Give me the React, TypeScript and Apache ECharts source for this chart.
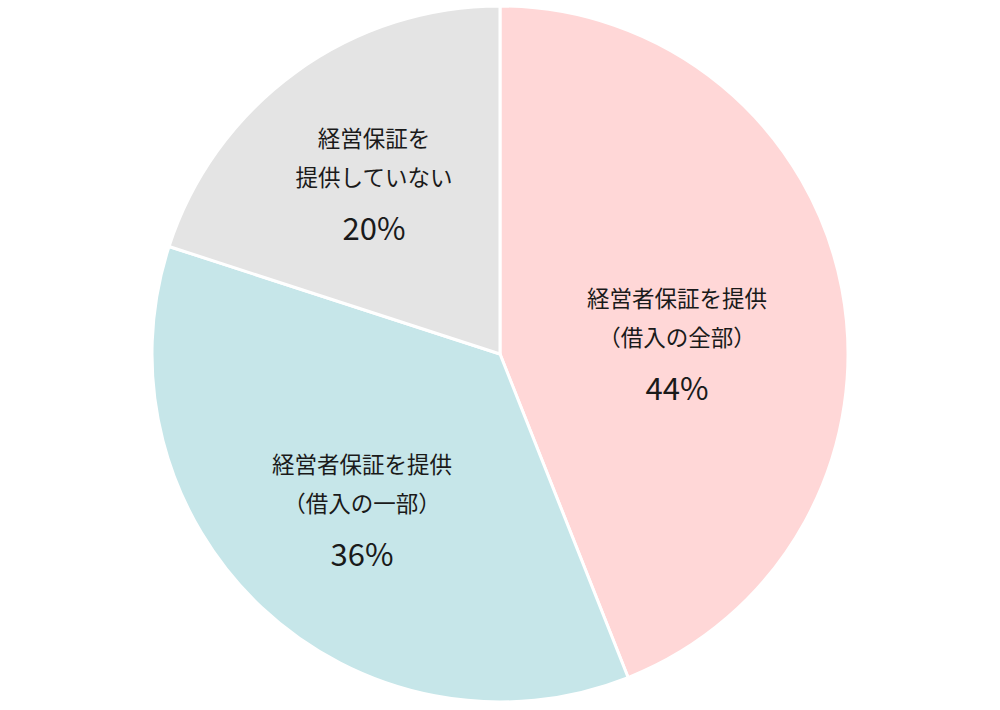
import * as echarts from "echarts"
import { useEffect, useRef } from "react"

// Share of borrowings covered by a manager's personal guarantee.
const names = ["経営者保証を提供\n（借入の全部）", "経営者保証を提供\n（借入の一部）", "経営保証を\n提供していない"]
const values = [44, 36, 20]
const colors = ["#ffd7d7", "#c6e6e9", "#e4e4e4"]
// label block centres, in px
const labelPos: [number, number][] = [
  [677, 347],
  [362, 513],
  [374, 187],
]

export default function App() {
  const ref = useRef<HTMLDivElement>(null)

  useEffect(() => {
    if (!ref.current) return
    const chart = echarts.init(ref.current, null, { renderer: "svg" })

    chart.setOption({
      animation: false,
      series: [
        {
          type: "pie",
          center: [500, 354],
          radius: 348,
          startAngle: 90,
          clockwise: true,
          silent: true,
          itemStyle: { borderColor: "#fff", borderWidth: 3 },
          label: {
            position: "inside",
            formatter: (p: { name: string; value: number }) => {
              const lines = p.name.split("\n").map((l) => `{t|${l}}`)
              return `${lines.join("\n")}\n{p|${p.value}%}`
            },
            rich: {
              t: { fontSize: 22.5, lineHeight: 39, color: "#1a1a1a", fontFamily: "Noto Sans CJK JP" },
              p: { fontSize: 31, lineHeight: 62, color: "#1a1a1a", fontFamily: "Noto Sans CJK JP" },
            },
          },
          labelLine: { show: false },
          labelLayout: (params: { dataIndex: number }) => {
            const [x, y] = labelPos[params.dataIndex]!
            return { x, y, align: "center", verticalAlign: "middle" }
          },
          data: names.map((name, i) => ({ name, value: values[i], itemStyle: { color: colors[i] } })),
        },
      ],
    })

    return () => chart.dispose()
  }, [])

  return <div ref={ref} style={{ position: "fixed", left: 0, top: 0, width: 1000, height: 710, background: "#fff" }} />
}
